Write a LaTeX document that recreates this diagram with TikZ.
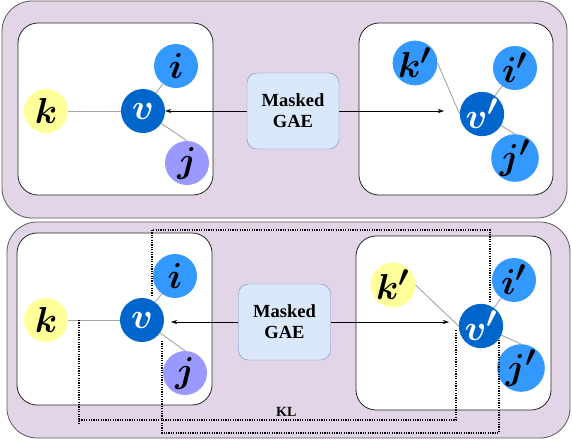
\documentclass[tikz,border=0pt]{standalone}
\usepackage{fontspec}
\setmainfont{Liberation Serif}
\usepackage{amssymb}
\usepackage{amsmath}
\usepackage{graphicx}
\usetikzlibrary{positioning,calc,arrows.meta}
\definecolor{panelfill}{HTML}{E1D5E7}
\definecolor{gaefill}{HTML}{DAE8FC}
\definecolor{gaeline}{HTML}{6C8EBF}
\definecolor{darkblue}{HTML}{0066CC}
\definecolor{lightblue}{HTML}{3399FF}
\definecolor{lilac}{HTML}{9999FF}
\definecolor{paleyellow}{HTML}{FFFF99}
\newcommand{\vlabel}[1]{\scalebox{1.45}{$\boldsymbol{#1}$}}

\begin{document}
\begin{tikzpicture}[x=1pt, y=-1pt,
  panel/.style={draw=black!65, fill=panelfill, rounded corners=30pt, line width=0.8pt},
  graphbox/.style={draw=black!85, fill=white, rounded corners=20pt, line width=0.8pt},
  gae/.style={draw=gaeline, fill=gaefill, rounded corners=10pt, minimum width=92pt,
    minimum height=76pt, align=center, font=\fontsize{18.5}{21}\selectfont\bfseries},
  vertex/.style={circle, minimum size=44pt, inner sep=0pt, font=\Huge},
  edge/.style={draw=black!35, line width=0.9pt},
  kl/.style={line width=1.3pt, dash pattern=on 1.2pt off 1.2pt},
  >={Stealth[length=6pt,width=4pt]}]
    \useasboundingbox (0,0) rectangle (572,440);
    %
    \draw[panel] (2,1) rectangle (567,218);
    \draw[panel] (7,222) rectangle (570,438);
    \draw[graphbox] (18,23) rectangle (213,195);
    \draw[graphbox] (359,23) rectangle (553,195);
    \draw[graphbox] (17,233) rectangle (212,405);
    \draw[graphbox] (356,236) rectangle (551,410);
    %
    % upper panel
    \node[vertex, fill=paleyellow] (kA) at (46,111) {\vlabel{k}};
    \node[vertex, fill=darkblue, text=white] (vA) at (143,111) {\vlabel{v}};
    \node[vertex, fill=lightblue] (iA) at (176,66) {\vlabel{i}};
    \node[vertex, fill=lilac] (jA) at (187,163) {\vlabel{j}};
    \node[vertex, fill=lightblue] (kpA) at (415,63) {\vlabel{k'}};
    \node[vertex, fill=darkblue, text=white] (vpA) at (482,114) {\vlabel{v'}};
    \node[vertex, fill=lightblue] (ipA) at (515,68) {\vlabel{i'}};
    \node[vertex, fill=lightblue] (jpA) at (515,158) {\vlabel{j'}};
    \node[gae] (gaeA) at (293,111) {Masked\\GAE};
    \coordinate (outA) at (444,111);
    %
    \draw[edge] (kA) -- (vA);
    \draw[edge] (vA) -- (iA);
    \draw[edge] (vA) -- (jA.north);
    \draw[edge] (kpA.east) -- (vpA.west);
    \draw[edge] (vpA) -- (ipA);
    \draw[edge] (vpA) -- (jpA.north);
    \draw[->] (gaeA.west) -- (vA.east);
    \draw[->] (gaeA.east) -- (outA);
    %
    % lower panel
    \node[vertex, fill=paleyellow] (kB) at (46,320) {\vlabel{k}};
    \node[vertex, fill=darkblue, text=white] (vB) at (142,320) {\vlabel{v}};
    \node[vertex, fill=lightblue] (iB) at (175,276) {\vlabel{i}};
    \node[vertex, fill=lilac] (jB) at (185,373) {\vlabel{j}};
    \node[vertex, fill=paleyellow] (kpB) at (393,285) {\vlabel{k'}};
    \node[vertex, fill=darkblue, text=white] (vpB) at (481,326) {\vlabel{v'}};
    \node[vertex, fill=lightblue] (ipB) at (514,280) {\vlabel{i'}};
    \node[vertex, fill=lightblue] (jpB) at (521,368) {\vlabel{j'}};
    \node[gae] (gaeB) at (284.5,322) {Masked\\GAE};
    \coordinate (inB) at (171,322);
    \coordinate (outB) at (449,322);
    %
    \draw[edge] (kB) -- (vB);
    \draw[edge] (vB) -- (iB);
    \draw[edge] (vB) -- (jB.north);
    \draw[edge] (kpB.east) -- (vpB.west);
    \draw[edge] (vpB) -- (ipB);
    \draw[edge] (vpB) -- (jpB.north);
    \draw[->] (gaeB.west) -- (inB);
    \draw[->] (gaeB.east) -- (outB);
    %
    % KL brackets
    \draw[kl] (79,320) -- (79,425);
    \draw[kl] (79,420) -- node[above, pos=0.55, font=\fontsize{14}{14}\selectfont\bfseries]{KL} (456,420) -- (456,330);
    \draw[kl] (152,296) -- (152,230) -- (490,230) -- (490,302);
    \draw[kl] (162,341) -- (162,433) -- (499,433) -- (499,340);
\end{tikzpicture}
\end{document}
